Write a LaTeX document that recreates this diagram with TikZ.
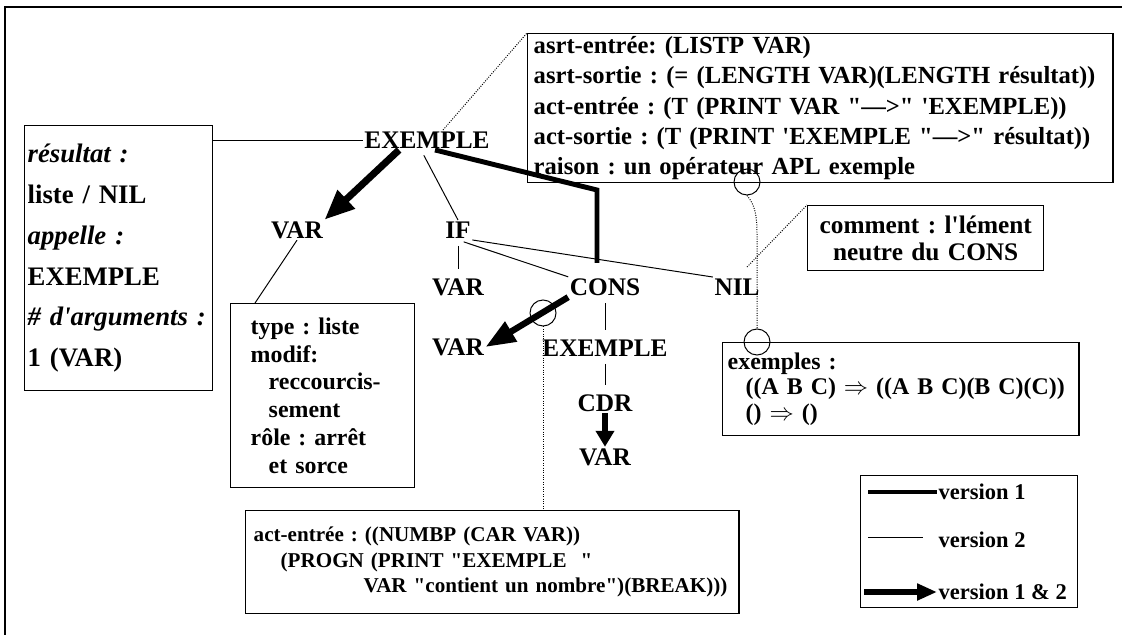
\documentclass[tikz,border=0pt]{standalone}
\usepackage{fontspec}
\setmainfont{Liberation Serif}[Ligatures=TeXOff]
\usetikzlibrary{arrows.meta, positioning}
\frenchspacing

\tikzset{
  lbl/.style={font=\fontsize{18}{20}\selectfont\bfseries, inner sep=1pt},
  note/.style={draw, line width=1pt, anchor=north west, align=left, inner ysep=0pt,
               font=\fontsize{17.5}{21.6}\selectfont\bfseries},
  leglbl/.style={font=\fontsize{16}{18}\selectfont\bfseries, inner sep=1pt, anchor=west},
  vone/.style={line width=3.5pt},
  vtwo/.style={line width=0.7pt},
  vboth/.style={line width=5pt, -{Triangle[length=0.75cm,width=0.6cm]}},
  vbothsmall/.style={line width=4pt, -{Triangle[length=0.4cm,width=0.45cm]}},
  link/.style={densely dotted, line width=0.7pt},
  ring/.style={draw, circle, line width=0.7pt, minimum size=0.65cm, inner sep=0pt},
}

\begin{document}
\begin{tikzpicture}[x=0.025cm, y=-0.025cm]
  \useasboundingbox (0,0) rectangle (1122,635);
  % frame
  \draw[line width=1pt] (1122,7) -- (5,7) -- (5,635);

  % tree
  \node[lbl] (ex) at (427,140) {EXEMPLE};
  \node[lbl] (var1) at (297,230) {VAR};
  \node[lbl] (if) at (458,230) {IF};
  \node[lbl] (var2) at (458,287) {VAR};
  \node[lbl] (cons) at (605,287) {CONS};
  \node[lbl] (nil) at (737,287) {NIL};
  \node[lbl] (var3) at (458,347) {VAR};
  \node[lbl] (ex2) at (605,348) {EXEMPLE};
  \node[lbl] (cdr) at (605,403) {CDR};
  \node[lbl] (var4) at (605,457) {VAR};

  % notes
  \node[note, text width=4.55cm, inner xsep=0.075cm, minimum height=6.625cm,
        font=\fontsize{19}{29}\selectfont\bfseries] (res) at (24,125)
    {\textit{résultat :}\\ liste / NIL\\ \textit{appelle :}\\ EXEMPLE\\
     \textit{\# d'arguments :}\\ 1 (VAR)};
  \node[note, text width=14.325cm, inner xsep=0.15cm, minimum height=3.725cm] (asrt) at (527,33)
    {asrt-entrée: (LISTP VAR)\\
     asrt-sortie : (= (LENGTH VAR)(LENGTH résultat))\\
     act-entrée : (T (PRINT VAR "—>" 'EXEMPLE))\\
     act-sortie : (T (PRINT 'EXEMPLE "—>" résultat))\\
     raison : un opérateur APL exemple};
  \node[note, text width=3.6cm, inner xsep=0.5cm, minimum height=4.6cm,
        font=\fontsize{17}{19.85}\selectfont\bfseries] (typ) at (230,303)
    {type : liste\\ modif:\\ \hspace*{0.45cm}reccourcis-\\ \hspace*{0.45cm}sement\\
     rôle : arrêt\\ \hspace*{0.45cm}et sorce};
  \node[note, align=center, text width=5.6cm, inner xsep=0.15cm, minimum height=1.625cm,
        font=\fontsize{18}{19.5}\selectfont\bfseries] (com) at (807,205)
    {comment : l'lément\\ neutre du CONS};
  \node[note, text width=8.65cm, inner xsep=0.125cm, minimum height=2.325cm,
        font=\fontsize{17}{18.4}\selectfont\bfseries] (exs) at (722,342)
    {exemples :\\ \hspace*{0.45cm}((A B C) $\Rightarrow$ ((A B C)(B C)(C))\\
     \hspace*{0.45cm}() $\Rightarrow$ ()};
  \node[note, text width=11.925cm, inner xsep=0.2cm, minimum height=2.575cm,
        font=\fontsize{15}{18.2}\selectfont\bfseries] (act) at (245,510)
    {act-entrée : ((NUMBP (CAR VAR))\\
     \hspace*{0.675cm}(PROGN (PRINT "EXEMPLE~~"\\
     \hspace*{2.75cm}\mbox{VAR "contient un nombre")(BREAK)))}};

  % connectors
  \draw[vtwo] (ex.west) -- (ex.west -| res.east);
  \draw[vboth] ([xshift=-0.7cm]ex.south) -- (var1.north east);
  \draw[vtwo, shorten <=0.15cm] ([xshift=-0.15cm]ex.south) -- (if.north);
  \coordinate (bend) at (597,190);
  \draw[vone, line join=miter] ([xshift=0.2cm]ex.south) -- (bend) -- ([yshift=0.35cm]bend |- cons.north);
  \draw[vtwo, shorten <=0.15cm, shorten >=0.2cm] (if.south) -- (var2.north);
  \draw[vtwo, shorten <=0.15cm] (if.south) -- (cons.north west);
  \draw[vtwo] (if.south east) -- (nil.north west);
  \draw[vboth, line width=4.5pt, -{Triangle[length=0.75cm,width=0.55cm]}] (cons.south west) -- (var3.east);
  \draw[vtwo, shorten <=0.15cm, shorten >=0.2cm] (cons.south) -- (ex2.north);
  \draw[vtwo, shorten <=0.15cm, shorten >=0.2cm] (ex2.south) -- (cdr.north);
  \draw[vbothsmall] (cdr.south) -- (var4.north);
  \draw[vtwo] (var1.south) -- ([xshift=0.625cm]typ.north west);

  % comment links
  \node[ring] (r1) at (543,313) {};
  \node[ring] (r2) at (747,182) {};
  \node[ring] (r3) at (757,342) {};
  \draw[link] ([xshift=0.4cm]ex.north) -- (asrt.north west);
  \draw[link] (r1.south) -- (r1.south |- act.north);
  \draw[link] (r2.south) .. controls (755,205) and (757,215) .. (757,235) -- (r3.north);
  \draw[link] ([xshift=0.25cm, yshift=0.25cm]nil.north) -- (com.north west);

  % legend
  \node[draw, line width=1pt, anchor=north west, minimum width=5.425cm, minimum height=3.3cm] (leg) at (860,475) {};
  \node[leglbl] (l1) at (937,492) {version 1};
  \node[leglbl] (l2) at (937,540) {version 2};
  \node[leglbl] (l3) at (937,592) {version 1 \& 2};
  \coordinate (s1) at (868,492);
  \coordinate (s2) at (868,537);
  \coordinate (s3) at (864,592);
  \draw[vone] (s1) -- (l1.west);
  \draw[vtwo, shorten >=0.35cm] (s2) -- (s2 -| l2.west);
  \draw[line width=4pt, -{Triangle[length=0.5cm,width=0.4cm]}] (s3) -- (l3.west);
\end{tikzpicture}
\end{document}
